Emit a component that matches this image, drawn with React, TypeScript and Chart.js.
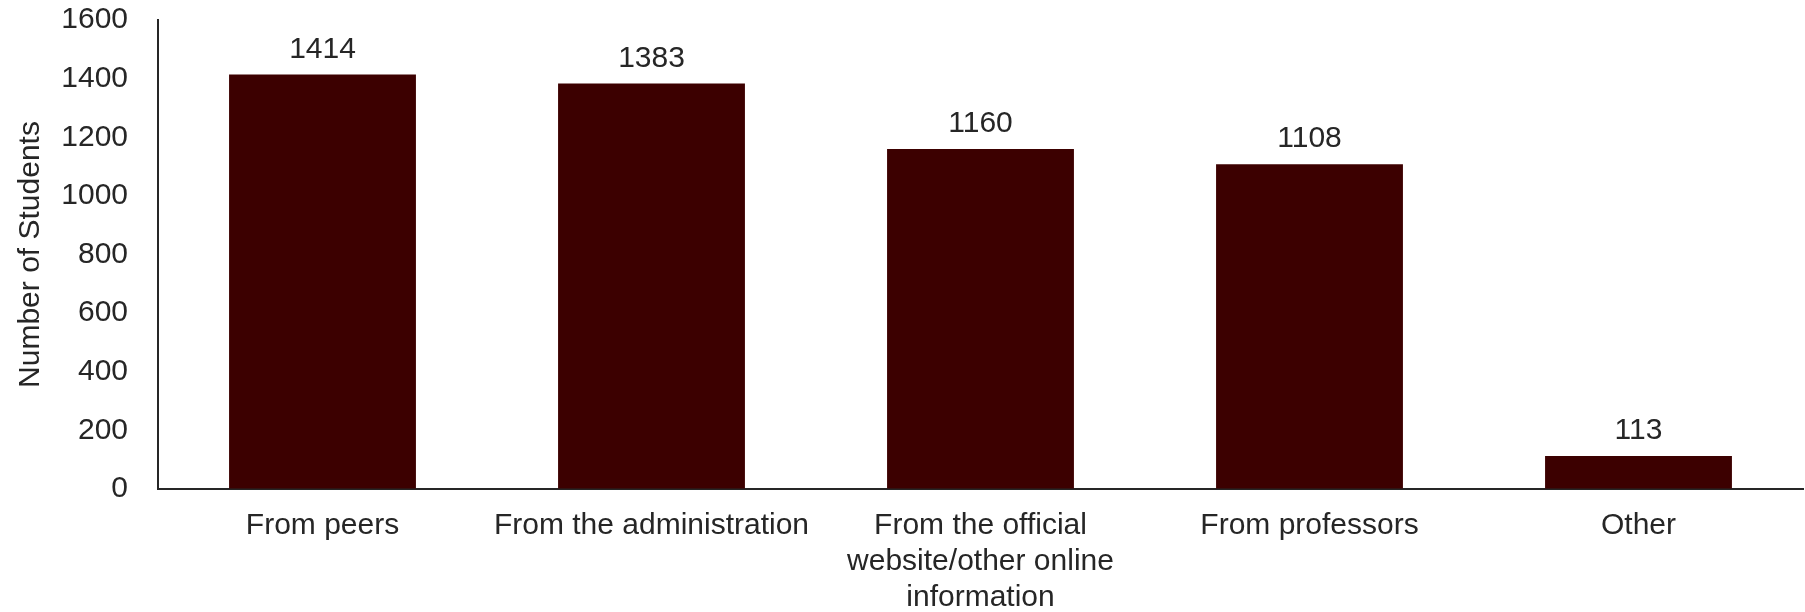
import React, { useEffect, useRef } from "react";
import { Chart, registerables } from "chart.js";

Chart.register(...registerables);

const categories: (string | string[])[] = [
  "From peers",
  "From the administration",
  ["From the official", "website/other online", "information"],
  "From professors",
  "Other",
];
const studentCounts: number[] = [1414, 1383, 1160, 1108, 113];
const yMax = 1600;
const yStep = 200;
const yTitle = "Number of Students";

const FONT = "'Liberation Sans', Arial, sans-serif";
const TEXT = "#262626";
const BAR = "#3c0000";

const valueLabels = {
  id: "valueLabels",
  afterDatasetsDraw(chart: any) {
    const ctx = chart.ctx;
    const meta = chart.getDatasetMeta(0);
    const data = chart.data.datasets[0].data;
    ctx.save();
    ctx.font = `30px ${FONT}`;
    ctx.fillStyle = TEXT;
    ctx.textAlign = "center";
    ctx.textBaseline = "alphabetic";
    meta.data.forEach((el: any, i: number) => {
      ctx.fillText(String(data[i]), el.x, el.y - 17);
    });
    ctx.restore();
  },
};

export default function App() {
  const ref = useRef<HTMLCanvasElement | null>(null);
  useEffect(() => {
    document.body.style.margin = "0";
    document.body.style.overflow = "hidden";
    const canvas = ref.current;
    if (!canvas) return;
    const chart = new Chart(canvas, {
      type: "bar",
      data: {
        labels: categories,
        datasets: [
          {
            data: studentCounts,
            backgroundColor: BAR,
            borderWidth: 0,
            categoryPercentage: 1,
            barPercentage: 0.568,
          },
        ],
      },
      options: {
        animation: false,
        responsive: false,
        maintainAspectRatio: false,
        layout: { padding: { top: 20, right: 2, left: 0, bottom: 0 } },
        plugins: {
          legend: { display: false },
          tooltip: { enabled: false },
        },
        scales: {
          x: {
            grid: { display: false, drawTicks: false },
            border: { display: true, color: TEXT, width: 2 },
            ticks: {
              color: TEXT,
              font: { family: FONT, size: 30, lineHeight: 1.2 },
              padding: 19,
              maxRotation: 0,
              minRotation: 0,
              autoSkip: false,
            },
            afterFit: (scale: any) => {
              scale.height = 123;
            },
          },
          y: {
            min: 0,
            max: yMax,
            grid: {
              display: true,
              drawOnChartArea: false,
              drawTicks: true,
              tickLength: 30,
              tickColor: "rgba(0,0,0,0)",
            },
            border: { display: true, color: TEXT, width: 2 },
            ticks: {
              stepSize: yStep,
              color: TEXT,
              font: { family: FONT, size: 30, lineHeight: 1.2 },
              padding: 0,
              callback: (v: any) => String(v),
            },
            title: {
              display: true,
              text: yTitle,
              color: TEXT,
              font: { family: FONT, size: 30, lineHeight: 1.2 },
              padding: { top: 13, bottom: 0 },
            },
            afterFit: (scale: any) => {
              scale.width = 158;
            },
          },
        },
      },
      plugins: [valueLabels],
    });
    return () => chart.destroy();
  }, []);
  return (
    <div style={{ width: 1805, height: 612, background: "#fff" }}>
      <canvas ref={ref} width={1805} height={612} style={{ display: "block" }} />
    </div>
  );
}
